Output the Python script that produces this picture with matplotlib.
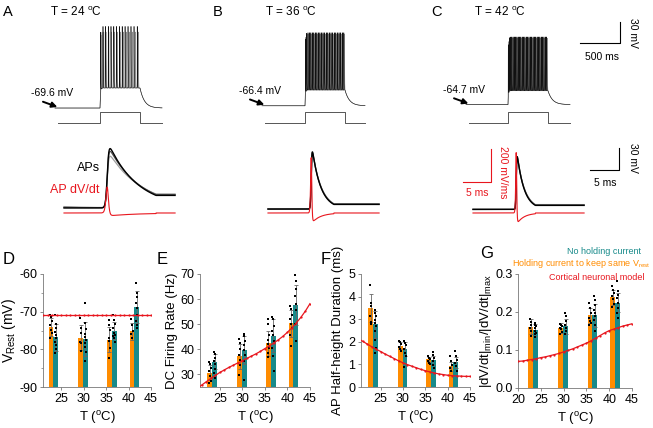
import numpy as np
import matplotlib
matplotlib.use('Agg')
import matplotlib.pyplot as plt

plt.rcParams['font.family'] = ['Liberation Sans', 'DejaVu Sans']
plt.rcParams['mathtext.fontset'] = 'custom'
plt.rcParams['mathtext.rm'] = 'Liberation Sans'
plt.rcParams['mathtext.it'] = 'Liberation Sans:italic'
plt.rcParams['mathtext.bf'] = 'Liberation Sans:bold'
plt.rcParams['axes.unicode_minus'] = False

# ------------------------------------------------------------------ data
# summary panels (D-G)
temps = [23.3, 29.9, 36.3, 41.3]

vrest_hold_mean = [-74.1, -76.9, -77.4, -75.2]
vrest_hold_err = [2.3, 3.4, 3.3, 2.2]
vrest_hold_pts = [[-71.0, -71.5, -72.6, -73.5, -74.8, -75.7, -77.0],
                  [-71.7, -74.4, -75.7, -78.0, -78.3, -80.5],
                  [-72.1, -73.5, -74.8, -77.0, -77.8, -79.7, -82.3],
                  [-72.0, -73.5, -75.0, -76.0, -77.0]]
vrest_free_mean = [-76.8, -77.2, -75.0, -68.8]
vrest_free_err = [3.6, 4.5, 2.3, 4.3]
vrest_free_pts = [[-71.0, -73.3, -74.4, -75.3, -76.2, -77.1, -78.0, -78.9, -80.0, -81.0],
                  [-67.8, -73.0, -74.5, -75.8, -76.7, -77.5, -78.4, -79.3, -80.6, -83.2],
                  [-71.0, -72.1, -73.4, -74.4, -75.6, -76.1, -76.5, -77.0, -78.0],
                  [-62.4, -65.0, -66.0, -67.8, -69.1, -70.9, -72.6, -73.5, -74.4]]

rate_hold_mean = [30.7, 37.2, 42.4, 50.3]
rate_hold_err = [3.0, 5.0, 5.0, 5.5]
rate_hold_pts = [[34.9, 34.0, 32.5, 31.4, 29.5, 27.5, 26.5],
                 [44.0, 42.5, 40.3, 37.9, 35.9, 33.9, 29.9],
                 [51.9, 49.9, 45.9, 43.9, 42.2, 40.6, 38.6, 36.9],
                 [57.2, 55.9, 53.6, 51.9, 49.9, 48.6, 45.9, 41.3]]
rate_free_mean = [35.0, 39.7, 45.5, 57.8]
rate_free_err = [3.0, 5.5, 6.5, 8.0]
rate_free_pts = [[39.0, 38.0, 36.7, 35.3, 34.0, 32.0, 30.7, 28.7],
                 [46.3, 45.2, 43.5, 41.9, 39.9, 37.9, 35.3, 27.9],
                 [52.9, 51.9, 49.2, 47.2, 45.9, 43.2, 40.6, 37.3, 31.3],
                 [69.5, 67.2, 63.9, 61.2, 57.9, 55.5, 49.9, 43.3]]

hw_hold_mean = [3.5, 1.82, 1.22, 0.92]
hw_hold_err = [0.62, 0.15, 0.12, 0.2]
hw_hold_pts = [[4.53, 3.72, 3.57, 3.13, 2.88, 2.77],
               [2.03, 1.97, 1.89, 1.78, 1.68, 1.58],
               [1.36, 1.30, 1.22, 1.15, 1.08, 1.00],
               [1.36, 1.14, 0.99, 0.84, 0.70]]
hw_free_mean = [2.78, 1.68, 1.19, 1.09]
hw_free_err = [0.6, 0.3, 0.2, 0.25]
hw_free_pts = [[3.42, 3.27, 3.13, 2.98, 2.83, 2.68, 2.46, 2.09, 1.73, 1.50],
               [2.02, 1.95, 1.84, 1.70, 1.50, 1.35, 0.87],
               [1.55, 1.43, 1.28, 1.13, 0.99, 0.84],
               [1.58, 1.36, 1.21, 1.06, 0.91, 0.69]]

ratio_hold_mean = [0.161, 0.158, 0.191, 0.239]
ratio_hold_err = [0.02, 0.012, 0.02, 0.02]
ratio_hold_pts = [[0.182, 0.175, 0.167, 0.158, 0.149, 0.136],
                  [0.169, 0.167, 0.163, 0.158, 0.154, 0.148, 0.141],
                  [0.224, 0.211, 0.198, 0.185, 0.176, 0.172, 0.167],
                  [0.268, 0.259, 0.250, 0.241, 0.233, 0.220, 0.212]]
ratio_free_mean = [0.153, 0.162, 0.191, 0.224]
ratio_free_err = [0.015, 0.02, 0.03, 0.025]
ratio_free_pts = [[0.171, 0.167, 0.163, 0.158, 0.151, 0.145, 0.141, 0.135],
                  [0.197, 0.189, 0.176, 0.167, 0.158, 0.150, 0.141],
                  [0.241, 0.232, 0.219, 0.206, 0.198, 0.189, 0.180, 0.167, 0.151],
                  [0.281, 0.255, 0.246, 0.237, 0.224, 0.211, 0.198, 0.184]]

# cortical neuronal model (red)
model_T = list(range(20, 46))
model_vrest = [-70.8] * len(model_T)
model_rate = [24.5, 25.8, 27.1, 28.4, 29.6, 30.8, 31.8, 32.8, 33.7, 34.6, 35.5, 36.4, 37.3,
              38.2, 39.2, 40.3, 41.4, 42.6, 43.8, 45.2, 46.8, 48.6, 50.6, 52.8, 55.3, 58.2]
model_hw = [2.14, 2.02, 1.90, 1.78, 1.67, 1.57, 1.46, 1.36, 1.26, 1.16, 1.07, 0.99, 0.92,
            0.85, 0.78, 0.72, 0.67, 0.62, 0.58, 0.55, 0.52, 0.50, 0.49, 0.48, 0.47, 0.47]
model_ratio = [0.070, 0.071, 0.073, 0.075, 0.077, 0.080, 0.082, 0.085, 0.088, 0.091, 0.095,
               0.099, 0.103, 0.108, 0.113, 0.118, 0.124, 0.131, 0.138, 0.145, 0.151, 0.155,
               0.159, 0.163, 0.166, 0.169]

# example recordings (A-C)
rec_labels = ['24', '36', '42']
rec_rest = [-69.6, -66.4, -64.7]           # resting potential (mV)
rec_plateau = [-41.0, -44.0, -45.0]        # depolarised level during step (mV)
rec_peak_black = [47.0, 38.0, 32.0]        # spike peak (mV)
rec_peak_gray = [39.0, 36.0, 30.0]
rec_start = [62.0, 87.0, 100.0]            # ms
rec_end = [1400.0, 1375.0, 1400.0]
step_on, step_off = 625.0, 1125.0
spikes_black = [
    [632, 662, 695, 728, 762, 797, 832, 867, 902, 938, 975, 1012, 1050, 1090],
    [630, 645, 662, 680, 698, 716, 735, 754, 773, 792, 811, 830, 850, 870, 890, 910, 930,
     950, 970, 990, 1010, 1030, 1050, 1070, 1090, 1110],
    [628, 642, 657, 672, 688, 704, 720, 736, 752, 768, 785, 802, 819, 836, 853, 870, 887,
     904, 921, 938, 955, 972, 989, 1006, 1023, 1040, 1057, 1074, 1091, 1108]]
spikes_gray = [
    [636, 650, 672, 700, 735, 770, 806, 842, 878, 915, 952, 990, 1028, 1067, 1105],
    [634, 654, 671, 689, 707, 726, 745, 764, 783, 802, 821, 840, 860, 880, 900, 920, 940,
     960, 980, 1000, 1020, 1040, 1060, 1080, 1100, 1118],
    [633, 649, 664, 680, 696, 712, 728, 744, 760, 777, 794, 811, 828, 845, 862, 879, 896,
     913, 930, 947, 964, 981, 998, 1015, 1032, 1049, 1066, 1083, 1100, 1116]]
stim_low, stim_high = -91.0, -75.5

# single action potentials (middle row)
ap_rest = [-60.0, -61.5, -62.0]
ap_amp = [[70.0, 77.0, 81.0], [76.0, 77.0, 78.0], [70.0, 71.0, 72.0]]
ap_rise = [0.14, 0.065, 0.055]
ap_decay = [[5.9, 5.4, 5.0], [1.55, 1.5, 1.45], [1.3, 1.25, 1.2]]
ap_offset = [[2.5, 1.0, 0.0], [0.5, 0.3, 0.0], [0.5, 0.3, 0.0]]
ap_colors = ['#a0a0a0', '#505050', 'black']

ORANGE = '#FF8C00'
TEAL = '#178A8A'
RED = '#E8161E'

# ------------------------------------------------------------------ figure
W, H = 653, 428
fig = plt.figure(figsize=(W / 100, H / 100), dpi=100)


def rect(l, t, r, b):
    return [l / W, 1 - b / H, (r - l) / W, (b - t) / H]


def ftext(x, y, s, **kw):
    kw.setdefault('ha', 'center')
    kw.setdefault('va', 'center')
    fig.text(x / W, 1 - y / H, s, **kw)


def ap_shape(x, rise, decay):
    z = np.clip(x / rise, -60, 60)
    s = 1 / (1 + np.exp(-z))
    sp = np.log1p(np.exp(z)) * rise / decay
    return s * np.exp(-sp)


def ap_norm(x, rise, decay):
    xx = np.linspace(-5 * rise, 20 * rise + 3 * decay, 5000)
    return ap_shape(x, rise, decay) / ap_shape(xx, rise, decay).max()


# ---------------- top row: spike trains
top_lefts = [50, 255, 458]
for i in range(3):
    ax = fig.add_axes(rect(top_lefts[i], 15, top_lefts[i] + 120, 130))
    ax.set_xlim(0, 1500)
    ax.set_ylim(-101, 63.3)
    ax.axis('off')
    t = np.arange(rec_start[i], rec_end[i], 0.05)
    h = np.where(t < step_on, 0.0, 1 - np.exp(-(t - step_on) / 6.0))
    h = np.where(t > step_off, (1 - np.exp(-(step_off - step_on) / 6.0)) *
                 np.exp(-(t - step_off) / 55.0), h)
    base = rec_rest[i] + (rec_plateau[i] - rec_rest[i]) * h
    for spk, pk, col, lw in ((spikes_gray[i], rec_peak_gray[i], '#909090', 0.45),
                             (spikes_black[i], rec_peak_black[i], '#111111', 0.4)):
        v = base.copy()
        for ts in spk:
            m = (t > ts - 5) & (t < ts + 25)
            v[m] += (pk - rec_plateau[i]) * ap_norm(t[m] - ts, 0.25, 1.6)
        ax.plot(t, v, color=col, lw=lw)
    ts_stim = np.array([rec_start[i] + 40, step_on, step_on, step_off, step_off, rec_end[i]])
    vs_stim = np.array([stim_low, stim_low, stim_high, stim_high, stim_low, stim_low])
    ax.plot(ts_stim, vs_stim, color='#555555', lw=0.7)
    # arrow to resting potential
    ax.annotate('', xy=(rec_start[i] + 30, rec_rest[i] + 1.5),
                xytext=(rec_start[i] - 150, rec_rest[i] + 9),
                arrowprops=dict(arrowstyle='-|>', color='black', lw=1.4,
                                mutation_scale=8, shrinkA=0, shrinkB=0),
                annotation_clip=False)
    ax.text(rec_start[i] - 30, rec_rest[i] + 21, '%.1f mV' % rec_rest[i],
            fontsize=7.5, ha='center', va='center')
    if i == 2:
        ax.plot([1525, 2025, 2025], [23.3, 23.3, 53.3], color='black', lw=0.8,
                clip_on=False)
        ax.text(1800, 3.5, '500 ms', fontsize=7.5, ha='center', va='center')
        ax.text(2190, 38, '30 mV', fontsize=7.5, ha='center', va='center',
                rotation=-90)

title_x = [76, 291, 500]
for i in range(3):
    ftext(title_x[i], 12, 'T = %s $^{\\rm o}$C' % rec_labels[i], fontsize=8.5)
for lab, x in zip('ABC', [8, 218, 437]):
    ftext(x, 12, lab, fontsize=10.5)

# ---------------- middle row: single APs and dV/dt
mid_lefts = [55, 259, 464]
for i in range(3):
    r = rect(mid_lefts[i], 140, mid_lefts[i] + 130, 230)
    ax = fig.add_axes(r)
    ax.set_xlim(0, 22.4)
    ax.set_ylim(-90, 32.7)
    ax.axis('off')
    axd = fig.add_axes(r)
    axd.set_xlim(0, 22.4)
    axd.set_ylim(-103, 442)
    axd.axis('off')
    t = np.arange(1.55, 20.7, 0.01)
    for k in range(3):
        v = ap_rest[i] + ap_offset[i][k] * np.exp(-t / 6.0) + \
            ap_amp[i][k] * ap_norm(t - 9.0, ap_rise[i], ap_decay[i][k])
        ax.plot(t, v, color=ap_colors[k], lw=1.0 if k == 2 else 0.9)
        if k == 2:
            axd.plot(t, np.gradient(v, t), color=RED, lw=0.8)
    if i == 0:
        ftext(89, 168, 'APs', fontsize=9)
        ftext(75, 190, 'AP dV/dt', fontsize=9, color=RED)
    if i == 2:
        axd.plot([-0.17, 4.66, 4.66], [188, 188, 388], color=RED, lw=0.8, clip_on=False)
        ftext(477, 193, '5 ms', fontsize=7.5, color=RED)
        ftext(503, 172, '200 mV/ms', fontsize=7.5, color=RED, rotation=-90)
        ax.plot([21.7, 26.7, 26.7], [-8.2, -8.2, 21.8], color='black', lw=0.8,
                clip_on=False)
        ftext(605, 183, '5 ms', fontsize=7.5)
        ftext(633, 158, '30 mV', fontsize=7.5, rotation=-90)

# ---------------- bottom row: bar charts
bw = 1.05


def style(ax):
    for s in ('top', 'right'):
        ax.spines[s].set_visible(False)
    for s in ('left', 'bottom'):
        ax.spines[s].set_linewidth(0.6)
        ax.spines[s].set_color('#777777')
    ax.tick_params(direction='out', length=2.5, width=0.6, color='#777777',
                   labelsize=9, pad=1.5)
    ax.tick_params(which='minor', direction='out', length=1.5, width=0.5, color='#777777')


def bar_panel(ax, base, hm, he, hp, fm, fe, fp, model):
    for i, T in enumerate(temps):
        for x, m, e, pts, col in ((T - bw / 2, hm[i], he[i], hp[i], ORANGE),
                                  (T + bw / 2, fm[i], fe[i], fp[i], TEAL)):
            ax.bar(x, m - base, bottom=base, width=bw, color=col, zorder=2)
            ax.errorbar(x, m, yerr=e, fmt='none', ecolor='#666666', elinewidth=0.6,
                        capsize=1.3, capthick=0.6, zorder=3)
            n = len(pts)
            jit = ((np.arange(n) % 3) - 1) * 0.17
            ax.plot(x + jit, pts, 's', color='black', ms=1.7, mew=0, zorder=4)
    ax.plot(model_T, model, '-', color=RED, lw=0.9, marker='o', ms=1.6, mew=0, zorder=5)
    style(ax)


axD = fig.add_axes(rect(43, 274, 151, 387))
bar_panel(axD, -90, vrest_hold_mean, vrest_hold_err, vrest_hold_pts,
          vrest_free_mean, vrest_free_err, vrest_free_pts, model_vrest)
axD.set_xlim(21, 45)
axD.set_ylim(-90, -60)
axD.set_yticks([-90, -80, -70, -60])
axD.set_yticks([-85, -75, -65], minor=True)
axD.set_ylabel('V$_{\\rm Rest}$ (mV)', fontsize=10, labelpad=1)

axE = fig.add_axes(rect(200, 274, 310, 387))
bar_panel(axE, 0, rate_hold_mean, rate_hold_err, rate_hold_pts,
          rate_free_mean, rate_free_err, rate_free_pts, model_rate)
axE.set_xlim(20.6, 45)
axE.set_ylim(25, 70)
axE.set_yticks([30, 40, 50, 60, 70])
axE.set_ylabel('DC Firing Rate (Hz)', fontsize=9.5, labelpad=2)

axF = fig.add_axes(rect(361, 274, 470, 387))
bar_panel(axF, 0, hw_hold_mean, hw_hold_err, hw_hold_pts,
          hw_free_mean, hw_free_err, hw_free_pts, model_hw)
axF.set_xlim(20.6, 45)
axF.set_ylim(0, 5)
axF.set_yticks([0, 1, 2, 3, 4, 5])
axF.set_ylabel('AP Half-height Duration (ms)', fontsize=9.5, labelpad=3)

axG = fig.add_axes(rect(518, 274, 632, 388))
bar_panel(axG, 0, ratio_hold_mean, ratio_hold_err, ratio_hold_pts,
          ratio_free_mean, ratio_free_err, ratio_free_pts, model_ratio)
axG.set_xlim(20, 45)
axG.set_ylim(0, 0.3)
axG.set_yticks([0.0, 0.1, 0.2, 0.3])
axG.set_yticklabels(['0.0', '0.1', '0.2', '0.3'])
axG.set_ylabel('|dV/dt|$_{\\rm min}$/|dV/dt|$_{\\rm max}$', fontsize=9.5, labelpad=1)

for ax in (axD, axE, axF):
    ax.set_xticks([25, 30, 35, 40, 45])
axG.set_xticks([20, 25, 30, 35, 40, 45])
for ax in (axD, axE, axF, axG):
    ax.set_xlabel('T ($^{\\rm o}$C)', fontsize=9.5, labelpad=3)

for lab, x, y in (('D', 9, 259), ('E', 162, 259), ('F', 326, 259), ('G', 487, 254)):
    ftext(x, y, lab, fontsize=12)

ftext(641, 252, 'No holding current', fontsize=6.5, color=TEAL, ha='right')
ftext(651, 264, 'Holding current to keep same V$_{\\rm rest}$', fontsize=6.5,
      color=ORANGE, ha='right')
ftext(644, 277, 'Cortical neuronal model', fontsize=6.5, color=RED, ha='right')

fig.savefig('out.png', dpi=100)
